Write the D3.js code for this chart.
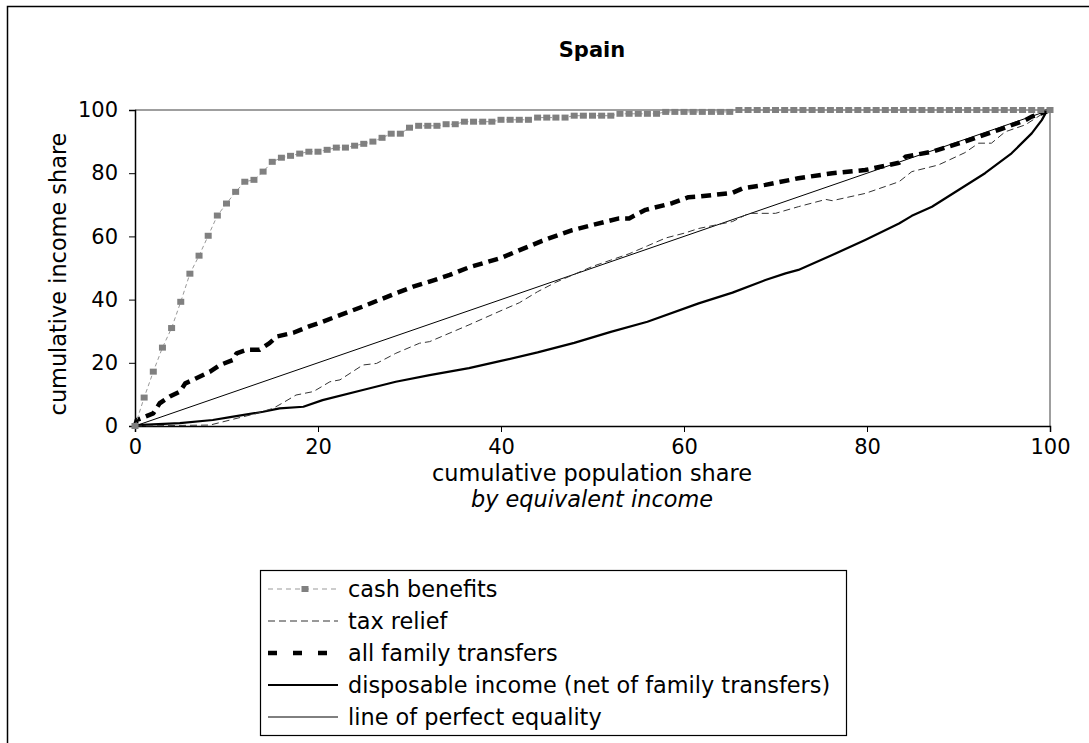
<!DOCTYPE html>
<html>
<head>
<meta charset="utf-8">
<script src="https://cdn.jsdelivr.net/npm/d3@7"></script>
<style>
  html, body { margin: 0; padding: 0; background: #fff; }
  svg { display: block; font-family: "DejaVu Sans", Verdana, sans-serif; }
</style>
</head>
<body>
<svg id="chart" width="1089" height="743"></svg>
<script>
// ---- data ----
const title = "Spain";
const xTicks = [0, 20, 40, 60, 80, 100];
const yTicks = [0, 20, 40, 60, 80, 100];

// cash benefits: one marker per percentile
const cashX = d3.range(0, 101);
const cashY = [0, 9, 17.2, 24.8, 31, 39.3, 48.2, 53.9, 60.2, 66.6, 70.4,
  74.1, 77.3, 77.9, 80.5, 83.6, 84.9, 85.5, 86.2, 86.8, 86.8,
  87.4, 88.1, 88.1, 88.7, 89.3, 90.0, 91.2, 92.5, 92.5, 94.4,
  95.0, 95.0, 95.0, 95.5, 95.5, 96.3, 96.3, 96.3, 96.3, 96.9,
  96.9, 96.9, 96.9, 97.6, 97.6, 97.6, 97.6, 98.2, 98.2, 98.2,
  98.2, 98.2, 98.8, 98.8, 98.8, 98.8, 98.8, 99.4, 99.4, 99.4,
  99.4, 99.4, 99.4, 99.4, 99.4, 100, 100, 100, 100, 100,
  100, 100, 100, 100, 100, 100, 100, 100, 100, 100,
  100, 100, 100, 100, 100, 100, 100, 100, 100, 100,
  100, 100, 100, 100, 100, 100, 100, 100, 100, 100];

const taxX = [0, 8.2, 10.4, 13.3, 15.1, 16.2, 17.6, 19.5, 21.3, 22.4, 24.9, 26.4, 28.5, 31.1, 32.2, 36.5,
  40, 42, 44, 46, 48, 50, 52, 54, 56, 58, 60, 61.6, 65.3, 67.1, 70, 72.5, 75.5, 76.2, 79.8,
  83.5, 84.9, 87.8, 90.7, 92.2, 93.6, 95.1, 97.3, 99.5, 100];
const taxY = [0, 0.3, 1.9, 4.0, 5.6, 7.4, 9.8, 10.9, 14.0, 14.6, 19.3, 19.8, 23.0, 26.2, 26.7, 32.0,
  36.5, 39, 42.5, 45.5, 48, 50.5, 52.5, 54.5, 57, 59.5, 61, 62.5, 64.7, 67.3, 67.3, 69.4, 71.7, 71.3, 73.6,
  77.3, 80.5, 82.6, 86.5, 89.5, 89.5, 93.1, 95.3, 99.4, 100];

const allX = [0, 0.2, 2.0, 2.7, 3.8, 4.9, 5.5, 6.7, 8.2, 9.3, 10.7, 11.1, 12.2, 13.6, 14.7, 15.5, 17.3,
  19.1, 20.5, 22.4, 24.9, 26.7, 28.5, 30.4, 32.2, 34.4, 36.5, 40, 44.5, 47.8, 51.5, 52.9, 54.0,
  55.8, 58.7, 60.5, 61.6, 65.3, 66.4, 68.9, 72.5, 76.2, 79.8, 83.5, 84.2, 87.1, 90.7, 94.4,
  97.3, 98.0, 99.5, 100];
const allY = [0, 1.9, 4.0, 7.2, 9.3, 10.9, 13.5, 15.1, 17.2, 19.3, 20.9, 23.0, 24.1, 24.1, 26.2, 28.3, 29.5,
  31.6, 33.0, 35.1, 37.8, 39.9, 42.0, 44.1, 45.7, 47.8, 50.2, 53.2, 58.6, 62.0, 64.7, 65.7, 65.7,
  68.4, 70.5, 72.4, 72.6, 73.8, 75.2, 76.3, 78.4, 80.0, 81.0, 83.3, 85.2, 86.8, 90.0, 93.7,
  96.8, 97.9, 99.4, 100];

const dispX = [0, 0.2, 4.9, 8.5, 10.4, 14.0, 15.8, 18.4, 20.5, 24.9, 28.5, 32.2, 36.5, 40, 44, 48, 52, 56,
  61.6, 65.3, 68.9, 71.1, 72.5, 76.2, 79.8, 83.5, 84.9, 87.1, 90.0, 92.9, 95.8, 98.0, 99.1, 99.6, 100];
const dispY = [0, 0.3, 0.9, 1.9, 2.8, 4.5, 5.6, 6.1, 8.2, 11.4, 14.0, 16.1, 18.3, 20.6, 23.3, 26.3, 29.8, 33,
  38.8, 42.2, 46.2, 48.3, 49.4, 54.1, 58.9, 64.1, 66.5, 69.4, 74.7, 80.0, 86.3, 92.6, 96.8, 99.4, 100];

const eqX = [0, 100];
const eqY = [0, 100];

const legendLabels = ["cash benefits", "tax relief", "all family transfers",
  "disposable income (net of family transfers)", "line of perfect equality"];

// ---- drawing ----
const svg = d3.select("#chart");
const FONT = "DejaVu Sans, Verdana, sans-serif";
const LABEL_SIZE = 22.4;

// outer frame (left & top edges visible)
svg.append("path").attr("d", "M7.5,743 V6.5 H1089")
  .attr("fill", "none").attr("stroke", "#000").attr("stroke-width", 1.5);

const x = d3.scaleLinear().domain([0, 100]).range([135, 1050]);
const y = d3.scaleLinear().domain([0, 100]).range([426, 110]);

// plot border top/right (grey)
svg.append("path")
  .attr("d", `M${x(0)},${y(100)} H${x(100)} V${y(0)}`)
  .attr("fill", "none").attr("stroke", "#808080").attr("stroke-width", 1.5);

const gx = svg.append("g").attr("transform", `translate(0,${y(0)})`)
  .call(d3.axisBottom(x).tickValues(xTicks).tickSize(6).tickPadding(7).tickFormat(d3.format("d")));
const gy = svg.append("g").attr("transform", `translate(${x(0)},0)`)
  .call(d3.axisLeft(y).tickValues(yTicks).tickSize(6).tickPadding(11).tickFormat(d3.format("d")));
[gx, gy].forEach(g => {
  g.select(".domain").attr("stroke", "#000").attr("stroke-width", 1.5);
  g.selectAll(".tick line").attr("stroke", "#000").attr("stroke-width", 1);
  g.selectAll(".tick text").attr("font-family", FONT).attr("font-size", 21).attr("fill", "#000");
});

const line = d3.line().x(d => x(d[0])).y(d => y(d[1]));
const zip = (a, b) => a.map((v, i) => [v, b[i]]);

const series = [
  { label: legendLabels[4], data: zip(eqX, eqY), stroke: "#000", width: 1, dash: null },
  { label: legendLabels[3], data: zip(dispX, dispY), stroke: "#000", width: 2.2, dash: null },
  { label: legendLabels[1], data: zip(taxX, taxY), stroke: "#333", width: 1, dash: "7,4" },
  { label: legendLabels[2], data: zip(allX, allY), stroke: "#000", width: 4.5, dash: "10,6" },
  { label: legendLabels[0], data: zip(cashX, cashY), stroke: "#999", width: 1, dash: "4,3" }
];

const plot = svg.append("g");
series.forEach(s => {
  plot.append("path").datum(s.data).attr("d", line)
    .attr("fill", "none").attr("stroke", s.stroke).attr("stroke-width", s.width)
    .attr("stroke-dasharray", s.dash).attr("stroke-linejoin", "round");
});
plot.selectAll("rect.cash").data(zip(cashX, cashY)).enter().append("rect")
  .attr("class", "cash")
  .attr("x", d => x(d[0]) - 3.5).attr("y", d => y(d[1]) - 3)
  .attr("width", 7).attr("height", 6).attr("fill", "#808080");

// title
svg.append("text").attr("x", 592).attr("y", 57).attr("text-anchor", "middle")
  .attr("font-family", FONT).attr("font-size", 21).attr("font-weight", "bold").text(title);

// axis titles
svg.append("text").attr("transform", "translate(66,274) rotate(-90)")
  .attr("text-anchor", "middle").attr("font-family", FONT).attr("font-size", LABEL_SIZE)
  .text("cumulative income share");
svg.append("text").attr("x", 592).attr("y", 481).attr("text-anchor", "middle")
  .attr("font-family", FONT).attr("font-size", LABEL_SIZE).text("cumulative population share");
svg.append("text").attr("x", 592).attr("y", 507).attr("text-anchor", "middle")
  .attr("font-family", FONT).attr("font-size", LABEL_SIZE).attr("font-style", "italic").text("by equivalent income");

// legend
const lg = svg.append("g");
lg.append("rect").attr("x", 260.5).attr("y", 570.5).attr("width", 586).attr("height", 165)
  .attr("fill", "#fff").attr("stroke", "#000").attr("stroke-width", 1.2);
const legendRows = [
  { label: legendLabels[0], stroke: "#999", width: 1, dash: "5,4", marker: true },
  { label: legendLabels[1], stroke: "#333", width: 1, dash: "7,4" },
  { label: legendLabels[2], stroke: "#000", width: 4.5, dash: "9,16" },
  { label: legendLabels[3], stroke: "#000", width: 2.2, dash: null },
  { label: legendLabels[4], stroke: "#000", width: 1, dash: null }
];
legendRows.forEach((r, i) => {
  const cy = 589 + i * 32;
  lg.append("line").attr("x1", 268).attr("x2", 338).attr("y1", cy).attr("y2", cy)
    .attr("stroke", r.stroke).attr("stroke-width", r.width).attr("stroke-dasharray", r.dash);
  if (r.marker) lg.append("rect").attr("x", 301.5).attr("y", cy - 3).attr("width", 7).attr("height", 6).attr("fill", "#808080");
  lg.append("text").attr("x", 348).attr("y", cy + 8)
    .attr("font-family", FONT).attr("font-size", LABEL_SIZE).text(r.label);
});
</script>
</body>
</html>
